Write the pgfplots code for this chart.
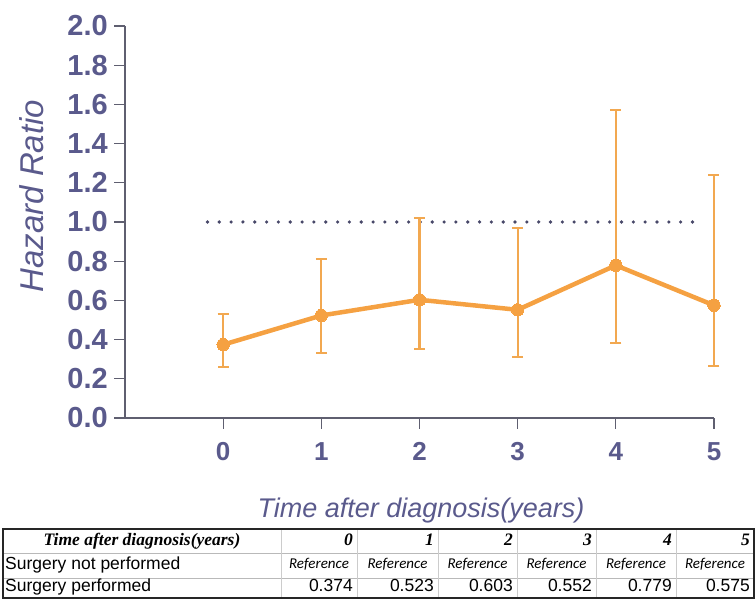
\documentclass[border=0pt]{standalone}
\usepackage{pgfplots}
\pgfplotsset{compat=1.18}
\usepackage{pgfplotstable}
\usepackage{fontspec}
\setmainfont{Liberation Sans}
\newfontfamily\serifbi{Liberation Serif}
\newfontfamily\calib{Carlito}
\definecolor{txtcol}{RGB}{90,90,140}
\definecolor{axcol}{RGB}{95,95,112}
\definecolor{ocol}{RGB}{245,161,66}
\definecolor{ecol}{RGB}{242,168,80}
\definecolor{dotcol}{RGB}{72,72,105}
\pgfplotstableread{
x y ep em
0 0.374 0.157 0.115
1 0.523 0.288 0.191
2 0.603 0.416 0.249
3 0.552 0.416 0.239
4 0.779 0.794 0.396
5 0.575 0.663 0.310
}\hrdata
\begin{document}
\begin{tikzpicture}
\useasboundingbox (0,0) rectangle (756pt,599pt);
\begin{axis}[
  at={(125pt,181pt)}, anchor=south west,
  width=589pt, height=392pt, scale only axis,
  xmin=-1, xmax=5, ymin=0, ymax=2,
  clip=false,
  axis lines=left,
  axis line style={-, color=axcol, line width=1.3pt},
  tick align=outside,
  major tick length=11pt,
  tick style={color=axcol, line width=1.3pt},
  xtick={0,1,2,3,4,5},
  ytick distance=0.2,
  /pgf/number format/assume math mode=true,
  yticklabel style={/pgf/number format/fixed, /pgf/number format/precision=1, /pgf/number format/fixed zerofill,
     font=\fontsize{29}{29}\selectfont\bfseries, text=txtcol, inner sep=0pt, anchor=east, xshift=-6pt},
  xticklabel style={font=\fontsize{26}{26}\selectfont\bfseries, text=txtcol, inner sep=0pt, anchor=north, yshift=-13pt},
  ylabel={Hazard Ratio},
  xlabel={Time after diagnosis(years)},
  ylabel style={at={(axis description cs:-0.158,0.566)}, anchor=center, rotate=0, font=\fontsize{33}{33}\selectfont\itshape, text=txtcol},
  xlabel style={at={(axis description cs:0.5025,-0.235)}, anchor=center, font=\fontsize{27}{27}\selectfont\itshape, text=txtcol},
]
\addplot[dotcol, line width=3.6pt, line cap=round, dash pattern=on 0pt off 11.83pt] coordinates {(-0.16,1) (4.9,1)};
\addplot[only marks, mark=none, color=ecol,
  error bars/.cd, y dir=both, y explicit,
  error bar style={line width=2.2pt, color=ecol},
  error mark options={rotate=90, mark size=5.5pt, line width=2.2pt, color=ecol}]
  table[x=x, y=y, y error plus=ep, y error minus=em]{\hrdata};
\addplot[color=ocol, line width=4.5pt, line join=round, mark=*, mark size=6.2pt,
  mark options={fill=ocol, draw=ocol, line width=0pt}]
  table[x=x, y=y]{\hrdata};
\end{axis}
% table below the chart
\def\fs{\fontsize{17.5}{17.5}\selectfont}
\draw[gray!55, line width=0.8pt] (3pt,46pt) -- (754pt,46pt);
\draw[gray!55, line width=0.8pt] (3pt,21pt) -- (754pt,21pt);
\foreach \c in {281,357,438,517,596,676}{
  \draw[gray!40, line width=0.8pt] (\c pt,1pt) -- (\c pt,70pt);
}
\draw[black!85, line width=1.4pt] (3pt,1pt) rectangle (754pt,70pt);
\node[anchor=mid, inner sep=0pt, font=\serifbi\fs\bfseries\itshape] at (142pt,56pt) {Time after diagnosis(years)};
\foreach \c/\t in {357/0,438/1,517/2,596/3,676/4,754/5}{
  \node[anchor=mid east, inner sep=0pt, font=\serifbi\fs\bfseries\itshape] at (\c pt-4pt,56pt) {\t};
}
\node[anchor=mid west, inner sep=0pt, font=\fs] at (5pt,32pt) {Surgery not performed};
\foreach \c in {319,397.5,477.5,556.5,636,715}{
  \node[anchor=mid, inner sep=0pt, font=\calib\fontsize{15}{15}\selectfont\itshape] at (\c pt,33pt) {Reference};
}
\node[anchor=mid west, inner sep=0pt, font=\fs] at (5pt,10pt) {Surgery performed};
\foreach \c/\t in {357/0.374,438/0.523,517/0.603,596/0.552,676/0.779,754/0.575}{
  \node[anchor=mid east, inner sep=0pt, font=\fs] at (\c pt-4pt,10pt) {\t};
}
\end{tikzpicture}
\end{document}
